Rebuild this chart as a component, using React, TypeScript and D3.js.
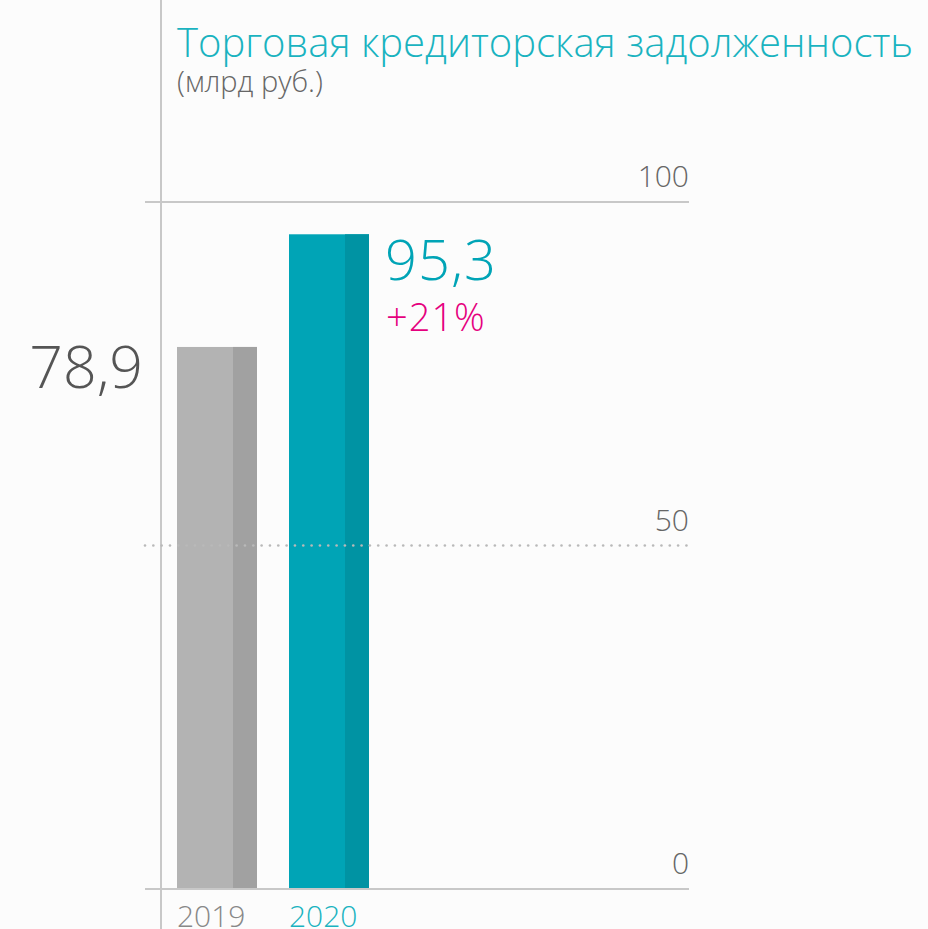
import React from "react";
import * as d3 from "d3";

const years = ["2019", "2020"];
const values = [78.9, 95.3];
const valueLabels = ["78,9", "95,3"];
const changeLabel = "+21%";
const ticks = [0, 50, 100];
const title = "Торговая кредиторская задолженность";
const subtitle = "(млрд руб.)";

const W = 928;
const H = 929;
const FONT = "'Open Sans', sans-serif";

export default function App() {
  const y = d3.scaleLinear().domain([0, 100]).range([889, 202]);
  const x = d3.scaleBand().domain(years).range([177, 369]).paddingInner(2 / 7).paddingOuter(0);
  const bw = x.bandwidth();
  const light = ["#b3b3b3", "#00a4b6"];
  const dark = ["#a1a1a1", "#0093a3"];
  const dots = d3.range(145, 692, 8.33);
  return (
    <svg width={W} height={H} style={{ position: "absolute", left: 0, top: 0, background: "#fcfcfc" }}>
      <rect x={0} y={0} width={W} height={H} fill="#fcfcfc" />
      <line x1={161} x2={161} y1={0} y2={H} stroke="#c8c8c8" strokeWidth={2} />
      {ticks.filter((t) => t !== 50).map((t) => (
        <line key={t} x1={145} x2={689} y1={y(t)} y2={y(t)} stroke="#c8c8c8" strokeWidth={2} />
      ))}
      {years.map((yr, i) => (
        <g key={yr}>
          <rect x={x(yr)} y={y(values[i])} width={bw} height={y(0) - y(values[i]) - 1} fill={light[i]} />
          <rect x={(x(yr) as number) + bw * 0.7} y={y(values[i])} width={bw * 0.3} height={y(0) - y(values[i]) - 1} fill={dark[i]} />
        </g>
      ))}
      {dots.map((d, i) => (
        <circle key={i} cx={d} cy={y(50)} r={1.3} fill="#b9b9b9" />
      ))}
      {ticks.map((t) => (
        <text key={t} x={689} y={y(t) - 15} textAnchor="end" fontFamily={FONT} fontWeight={300} fontSize={30} fill="#666">
          {t}
        </text>
      ))}
      <text x={177} y={57} fontFamily={FONT} fontWeight={300} fontSize={40} fill="#1ab3c0">{title}</text>
      <text x={177} y={92} fontFamily={FONT} fontWeight={300} fontSize={29} fill="#666">{subtitle}</text>
      <text x={143} y={388} textAnchor="end" fontFamily={FONT} fontWeight={300} fontSize={59} fill="#555">{valueLabels[0]}</text>
      <text x={385} y={280} fontFamily={FONT} fontWeight={300} fontSize={56} letterSpacing={1} fill="#00a4b6">{valueLabels[1]}</text>
      <text x={386} y={331} fontFamily={FONT} fontWeight={300} fontSize={38} letterSpacing={1} fill="#e5007e">{changeLabel}</text>
      {years.map((yr, i) => (
        <text key={yr} x={x(yr)} y={927} fontFamily={FONT} fontWeight={300} fontSize={30} fill={i === 0 ? "#888" : "#1ab3c0"}>
          {yr}
        </text>
      ))}
    </svg>
  );
}
